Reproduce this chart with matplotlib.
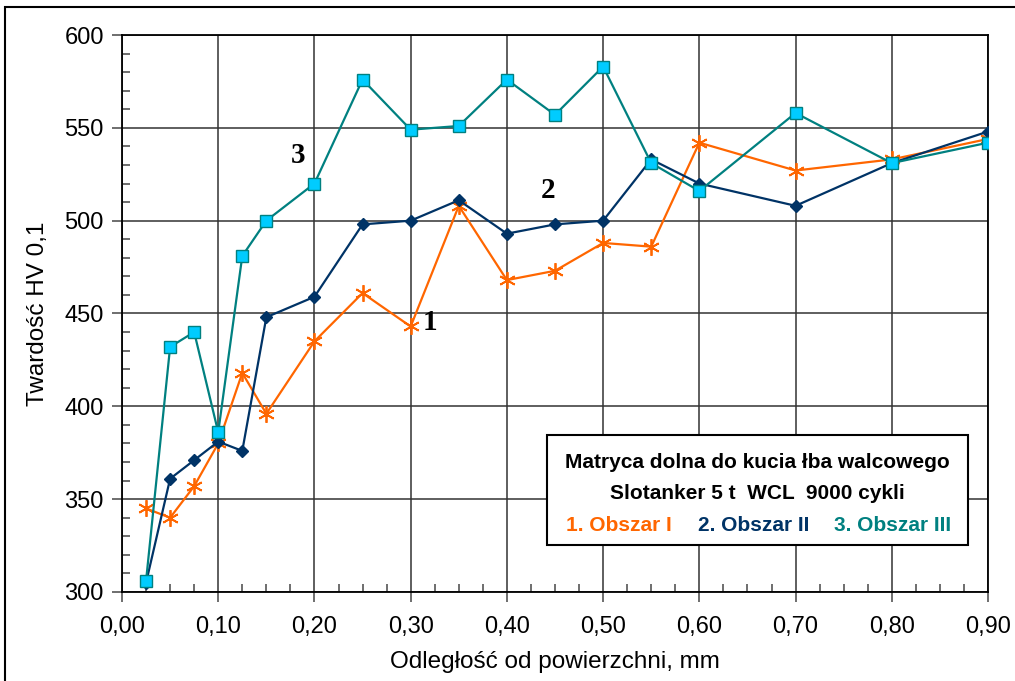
import numpy as np
import matplotlib.pyplot as plt
from matplotlib.patches import Rectangle
from matplotlib.ticker import MultipleLocator, FuncFormatter

plt.rcParams['font.family'] = ['Liberation Sans', 'DejaVu Sans']

# dane
x = [0.025, 0.05, 0.075, 0.10, 0.125, 0.15, 0.20, 0.25, 0.30, 0.35,
     0.40, 0.45, 0.50, 0.55, 0.60, 0.70, 0.80, 0.90]
obszar1 = [345, 340, 357, 380, 418, 396, 435, 461, 443, 508,
           468, 473, 488, 486, 542, 527, 533, 544]
obszar2 = [305, 361, 371, 381, 376, 448, 459, 498, 500, 511,
           493, 498, 500, 533, 520, 508, 531, 548]
obszar3 = [306, 432, 440, 386, 481, 500, 520, 576, 549, 551,
           576, 557, 583, 531, 516, 558, 531, 542]

pomarancz = '#FF6600'
granat = '#003366'
morski = '#008080'

fig = plt.figure(figsize=(10.15, 6.81), dpi=100)
ax = fig.add_axes([0.1202, 0.1307, 0.8532, 0.8179])

ax.plot(x, obszar1, color=pomarancz, lw=1.6, marker=(6, 2, 0), ms=12,
        mec=pomarancz, mew=1.3, zorder=3)
ax.plot(x, obszar2, color=granat, lw=1.6, marker='D', ms=6,
        mfc=granat, mec=granat, zorder=4)
ax.plot(x, obszar3, color=morski, lw=1.6, marker='s', ms=8,
        mfc='#00CCFF', mec=morski, mew=1, zorder=5)

ax.set_xlim(0, 0.9)
ax.set_ylim(300, 600)
ax.xaxis.set_major_locator(MultipleLocator(0.1))
ax.xaxis.set_minor_locator(MultipleLocator(0.025))
ax.yaxis.set_major_locator(MultipleLocator(50))
ax.yaxis.set_minor_locator(MultipleLocator(10))
ax.xaxis.set_major_formatter(FuncFormatter(lambda v, p: f'{v:.2f}'.replace('.', ',')))
ax.tick_params(axis='both', which='major', labelsize=17, direction='out', length=7,
               width=1.2, color='#555555')
ax.tick_params(axis='x', which='major', pad=10)
ax.tick_params(axis='y', which='major', pad=6)
ax.tick_params(axis='both', which='minor', direction='in', length=6, width=1.2,
               color='#555555')
ax.grid(True, which='major', color='#333333', lw=1.1)
for s in ax.spines.values():
    s.set_linewidth(1.3)

ax.set_xlabel('Odległość od powierzchni, mm', fontsize=17.5, labelpad=10)
ax.set_ylabel('Twardość HV 0,1', fontsize=17.5, labelpad=11)

serif = ['Liberation Serif', 'DejaVu Serif']
ax.text(0.32, 445, '1', fontsize=21, fontweight='bold', family=serif,
        ha='center', va='center', zorder=6)
ax.text(0.443, 516, '2', fontsize=21, fontweight='bold', family=serif,
        ha='center', va='center', zorder=6)
ax.text(0.183, 535, '3', fontsize=21, fontweight='bold', family=serif,
        ha='center', va='center', zorder=6)

# ramka z opisem
ax.add_patch(Rectangle((0.4414, 325.5), 0.438, 59.3, facecolor='white',
                       edgecolor='black', lw=1.5, zorder=7))
ax.text(0.6606, 370, 'Matryca dolna do kucia łba walcowego', fontsize=15,
        fontweight='bold', ha='center', va='center', zorder=8)
ax.text(0.6606, 353, 'Slotanker 5 t  WCL  9000 cykli', fontsize=15,
        fontweight='bold', ha='center', va='center', zorder=8)
ax.text(0.5166, 336, '1. Obszar I', fontsize=15, fontweight='bold',
        color=pomarancz, ha='center', va='center', zorder=8)
ax.text(0.656, 336, '2. Obszar II', fontsize=15, fontweight='bold',
        color=granat, ha='center', va='center', zorder=8)
ax.text(0.801, 336, '3. Obszar III', fontsize=15, fontweight='bold',
        color=morski, ha='center', va='center', zorder=8)

fig.patches.append(Rectangle((0.005, -0.1), 1.2, 1.09, transform=fig.transFigure,
                             fill=False, edgecolor='black', lw=1.5))

fig.savefig('out.png', dpi=100)
